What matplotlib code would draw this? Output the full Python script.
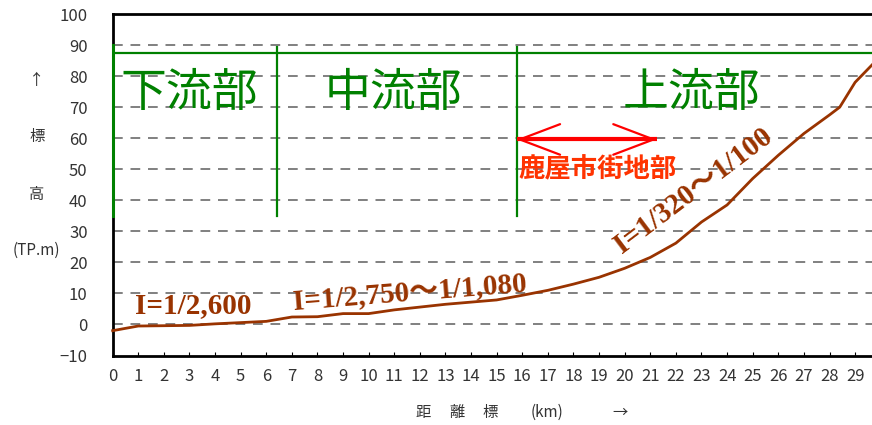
import matplotlib
matplotlib.use("Agg")
import matplotlib.pyplot as plt

# river bed profile (distance km -> elevation TP.m)
dist = [0, 1, 2, 3, 4, 5, 6, 7, 8, 9, 10, 11, 12, 13, 14, 15, 16, 17, 18,
        19, 20, 21, 22, 23, 24, 25, 26, 27, 28, 28.4, 29, 29.66]
elev = [-2.0, -0.5, -0.4, -0.3, 0.2, 0.6, 1.0, 2.4, 2.5, 3.5, 3.5, 4.7, 5.6, 6.5, 7.2, 7.9,
        9.4, 11.0, 13.0, 15.2, 18.1, 21.6, 26.2, 33.0, 38.5, 47.0, 54.5, 61.5, 67.5, 70.0,
        78.0, 83.6]

xticks = list(range(0, 30))
yticks = list(range(-10, 101, 10))

section_names = ["下流部", "中流部", "上流部"]
section_x = [3.0, 10.95, 22.6]
section_bounds = [0, 6.4, 15.78]

slope_labels = ["I=1/2,600", "I=1/2,750～1/1,080", "I=1/320～1/100"]
slope_x = [3.15, 11.6, 22.7]
slope_y = [6.2, 10.3, 43.0]
slope_rot = [0, 4.5, 37]

GREEN = "#008000"
BROWN = "#993300"
GRAY = "#333333"
jp = ["Noto Sans CJK JP", "DejaVu Sans"]
serif = ["Liberation Serif", "Noto Sans CJK JP"]

fig = plt.figure(figsize=(8.72, 4.25), dpi=100)
ax = fig.add_axes([0.1292, 0.1635, 0.8708, 0.8035])

ax.set_xlim(0, 29.66)
ax.set_ylim(-10, 100)
ax.set_xticks(xticks)
ax.set_xticklabels([str(t) for t in xticks])
ax.set_yticks(yticks)
ax.tick_params(axis="x", direction="in", length=3, pad=9, labelsize=12, labelcolor=GRAY)
ax.tick_params(axis="y", length=0, pad=18, labelsize=12, labelcolor=GRAY)
for t in ax.get_xticklabels() + ax.get_yticklabels():
    t.set_family(jp)

for y in yticks[1:-1]:
    ax.axhline(y, color="#808080", lw=1.4, ls=(0, (5, 4)), zorder=1)

ax.spines["right"].set_visible(False)
ax.spines["left"].set_linewidth(2)
ax.spines["bottom"].set_linewidth(2)
ax.spines["top"].set_linewidth(2)

# section lines
ax.axhline(87.3, color=GREEN, lw=1.6, zorder=2)
ax.plot([section_bounds[0]] * 2, [35, 90], color=GREEN, lw=2.2, zorder=6,
        clip_on=False)
for b in section_bounds[1:]:
    ax.plot([b, b], [35, 89.5], color=GREEN, lw=1.6, zorder=3)
for name, x in zip(section_names, section_x):
    ax.text(x, 74.5, name, color=GREEN, fontsize=33, ha="center", va="center",
            family=jp)

# urban area arrow
ax.plot([15.78, 21.25], [59.6, 59.6], color="#ff0000", lw=3, zorder=5,
        solid_capstyle="butt")
ax.annotate("", xy=(15.78, 59.6), xytext=(21.25, 59.6), zorder=5,
            arrowprops=dict(arrowstyle="<->,head_length=1.45,head_width=0.55",
                            color="#ff0000", lw=1.6, mutation_scale=20,
                            shrinkA=0, shrinkB=0))
ax.text(15.85, 49.8, "鹿屋市街地部", color="#ff3300", fontsize=19, ha="left",
        va="center", family=jp, fontweight="bold")

ax.plot(dist, elev, color=BROWN, lw=2.0, zorder=4, clip_on=False)

for s, x, y, r in zip(slope_labels, slope_x, slope_y, slope_rot):
    ax.text(x, y, s, color=BROWN, fontsize=21, fontweight="bold", ha="center",
            va="center", rotation=r, family=serif, rotation_mode="anchor")

# axis captions
fig.text(37 / 872, 1 - 80 / 425, "↑", fontsize=11, color=GRAY, ha="center", va="center", family=jp)
fig.text(37 / 872, 1 - 137 / 425, "標", fontsize=11, color=GRAY, ha="center", va="center", family=jp)
fig.text(37 / 872, 1 - 195 / 425, "高", fontsize=11, color=GRAY, ha="center", va="center", family=jp)
fig.text(36 / 872, 1 - 250 / 425, "(TP.m)", fontsize=11, color=GRAY, ha="center", va="center", family=jp)
fig.text(423 / 872, 1 - 412 / 425, "距", fontsize=11, color=GRAY, ha="center", va="center", family=jp)
fig.text(457 / 872, 1 - 412 / 425, "離", fontsize=11, color=GRAY, ha="center", va="center", family=jp)
fig.text(490 / 872, 1 - 412 / 425, "標", fontsize=11, color=GRAY, ha="center", va="center", family=jp)
fig.text(547 / 872, 1 - 412 / 425, "(km)", fontsize=11, color=GRAY, ha="center", va="center", family=jp)
fig.text(620 / 872, 1 - 412 / 425, "→", fontsize=11, color=GRAY, ha="center", va="center", family=jp)

fig.savefig("out.png", dpi=100)
